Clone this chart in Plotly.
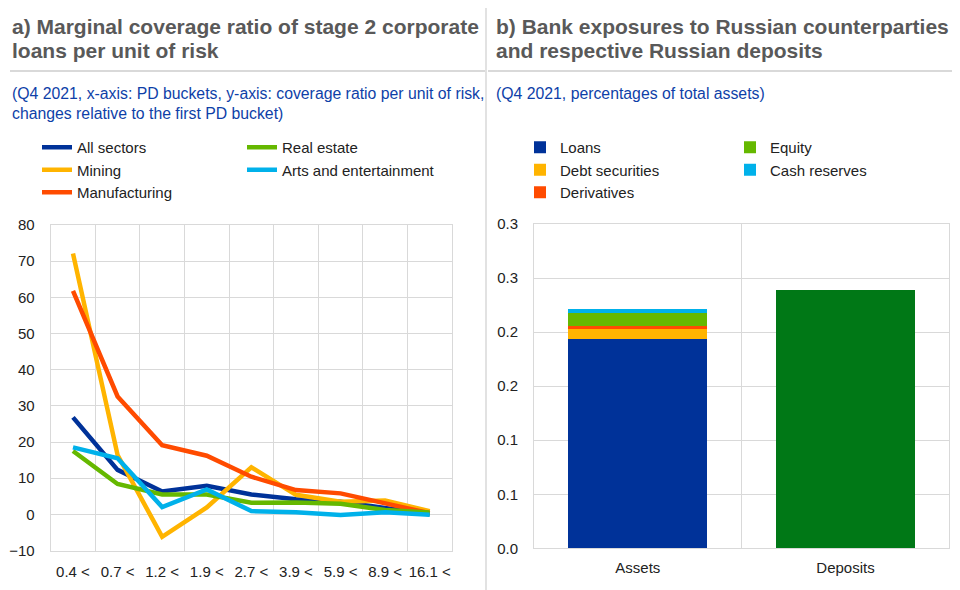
import plotly.graph_objects as go

# ---------------- data ----------------
pd_buckets = ["0.4 <", "0.7 <", "1.2 <", "1.9 <", "2.7 <", "3.9 <", "5.9 <", "8.9 <", "16.1 <"]
all_sectors = [26.8, 12.3, 6.3, 7.9, 5.5, 4.2, 3.5, 1.8, 0.0]
mining = [72.1, 16.4, -6.2, 1.9, 13.0, 5.4, 3.5, 3.8, 0.9]
manufacturing = [61.8, 32.6, 19.1, 16.2, 10.4, 6.7, 5.8, 3.0, 0.3]
real_estate = [17.5, 8.4, 5.5, 5.5, 3.2, 3.3, 2.9, 1.2, 0.5]
arts_entertainment = [18.5, 15.5, 2.0, 6.9, 0.9, 0.6, -0.2, 0.6, -0.1]

bar_categories = ["Assets", "Deposits"]
loans = [0.1936, None]
debt_securities = [0.0092, None]
derivatives = [0.0028, None]
equity = [0.0120, None]
cash_reserves = [0.0037, None]
deposits = [None, 0.2389]

left_yticks = [-10, 0, 10, 20, 30, 40, 50, 60, 70, 80]
right_ytick_vals = [0, 0.05, 0.10, 0.15, 0.20, 0.25, 0.30]
right_ytick_text = ["0.0", "0.1", "0.1", "0.2", "0.2", "0.3", "0.3"]

# ---------------- styling ----------------
FONT = "Liberation Sans, Arial, sans-serif"
GRID = "#d9d9d9"
TXT = "#222222"
OFF = 8  # page body margin
W, H = 960 - OFF, 590 - OFF

def px(x):
    return (x - OFF) / W

def py(y):
    return 1 - (y - OFF) / H

fig = go.Figure()

line_series = [
    ("All sectors", all_sectors, "#003299", "legend"),
    ("Mining", mining, "#FFB400", "legend"),
    ("Manufacturing", manufacturing, "#FF4B00", "legend"),
    ("Real estate", real_estate, "#65B800", "legend2"),
    ("Arts and entertainment", arts_entertainment, "#00B1EA", "legend2"),
]
for name, vals, col, lg in line_series:
    fig.add_trace(go.Scatter(
        x=pd_buckets, y=vals, name=name, mode="lines",
        line=dict(color=col, width=4.5), xaxis="x", yaxis="y", legend=lg,
    ))

bar_series = [
    ("Loans", loans, "#003299", "legend3"),
    ("Debt securities", debt_securities, "#FFB400", "legend3"),
    ("Derivatives", derivatives, "#FF4B00", "legend3"),
    ("Equity", equity, "#65B800", "legend4"),
    ("Cash reserves", cash_reserves, "#00B1EA", "legend4"),
]
for name, vals, col, lg in bar_series:
    fig.add_trace(go.Bar(
        x=bar_categories, y=vals, name=name, marker=dict(color=col, line=dict(width=0)),
        xaxis="x2", yaxis="y2", legend=lg,
    ))
fig.add_trace(go.Bar(
    x=bar_categories, y=deposits, name="Deposits", marker=dict(color="#007816", line=dict(width=0)),
    xaxis="x2", yaxis="y2", showlegend=False,
))

axis_common = dict(
    showgrid=True, gridcolor=GRID, gridwidth=1, showline=True, linecolor=GRID,
    linewidth=1, mirror=True, zeroline=False, automargin=False,
    tickfont=dict(family=FONT, size=15, color=TXT), ticks="",
)

legend_common = dict(
    orientation="v", xanchor="left", yanchor="top", bgcolor="rgba(0,0,0,0)",
    font=dict(family=FONT, size=15, color=TXT), itemwidth=30, tracegroupgap=0,
    traceorder="normal", itemclick=False,
)

fig.update_layout(
    width=W, height=H,
    margin=dict(l=0, r=0, t=0, b=0, autoexpand=False),
    paper_bgcolor="white", plot_bgcolor="white",
    barmode="stack", bargap=0.33,
    xaxis=dict(domain=[px(50.7), px(452)], anchor="y", type="category",
               range=[-0.5, len(pd_buckets) - 0.5], tickangle=0,
               tickson="boundaries", ticklabelstandoff=7, **axis_common),
    yaxis=dict(domain=[py(550.5), py(225)], anchor="x", range=[-10, 80],
               tickvals=left_yticks, ticklabelstandoff=12, **axis_common),
    xaxis2=dict(domain=[px(534), px(949.3)], anchor="y2", type="category",
                tickangle=0,
                tickson="boundaries", ticklabelstandoff=6, **axis_common),
    yaxis2=dict(domain=[py(548.3), py(224)], anchor="x2", range=[0, 0.3],
                tickvals=right_ytick_vals, ticktext=right_ytick_text,
                ticklabelstandoff=12, **axis_common),
    legend=dict(x=px(37), y=py(131), **legend_common),
    legend2=dict(x=px(242), y=py(131), **legend_common),
    legend3=dict(x=px(520), y=py(131), **legend_common),
    legend4=dict(x=px(730), y=py(131), **legend_common),
    showlegend=True,
)

TITLE_COL = "#595959"
SUB_COL = "#0E3FA8"
annotations = [
    ("a) Marginal coverage ratio of stage 2 corporate", 10, 27, 21, TITLE_COL, True),
    ("loans per unit of risk", 10, 51, 21, TITLE_COL, True),
    ("b) Bank exposures to Russian counterparties", 494, 27, 21, TITLE_COL, True),
    ("and respective Russian deposits", 494, 51, 21, TITLE_COL, True),
    ("(Q4 2021, x-axis: PD buckets, y-axis: coverage ratio per unit of risk,", 10, 93, 15.8, SUB_COL, False),
    ("changes relative to the first PD bucket)", 10, 113, 15.8, SUB_COL, False),
    ("(Q4 2021, percentages of total assets)", 494, 93, 15.8, SUB_COL, False),
]
for text, x, y, size, col, bold in annotations:
    fig.add_annotation(
        text=f"<b>{text}</b>" if bold else text,
        x=px(x), y=py(y), xref="paper", yref="paper", xanchor="left", yanchor="middle",
        showarrow=False, font=dict(family=FONT, size=size, color=col),
    )

# separators
fig.add_shape(type="line", xref="paper", yref="paper", x0=px(486), x1=px(486), y0=py(8), y1=py(590),
              line=dict(color=GRID, width=1.5))
fig.add_shape(type="line", xref="paper", yref="paper", x0=px(10), x1=px(485), y0=py(71), y1=py(71),
              line=dict(color=GRID, width=2))
fig.add_shape(type="line", xref="paper", yref="paper", x0=px(488), x1=px(960), y0=py(71), y1=py(71),
              line=dict(color=GRID, width=2))

fig.write_html("out.html")
